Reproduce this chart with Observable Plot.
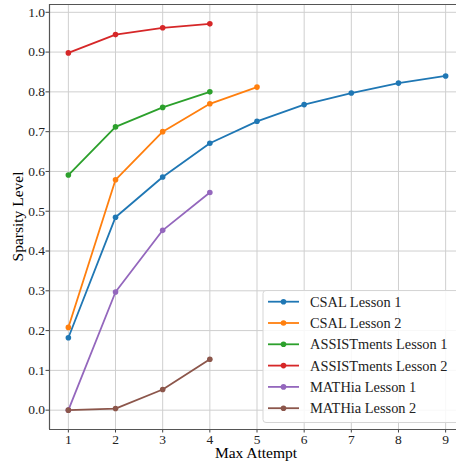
<!DOCTYPE html>
<html><head><meta charset="utf-8">
<script src="https://cdn.jsdelivr.net/npm/d3@7"></script>
<script src="https://cdn.jsdelivr.net/npm/@observablehq/plot@0.6"></script>
<style>
body{margin:0;background:#fff;}
#chart{position:relative;width:456px;height:461px;overflow:hidden;}
</style>
</head><body><div id="chart"></div>
<script>
const attempts = [1,2,3,4,5,6,7,8,9];
const seriesNames = ["CSAL Lesson 1","CSAL Lesson 2","ASSISTments Lesson 1","ASSISTments Lesson 2","MATHia Lesson 1","MATHia Lesson 2"];
const csalLesson1 = [0.182,0.485,0.586,0.671,0.726,0.768,0.797,0.822,0.840];
const csalLesson2 = [0.208,0.579,0.700,0.770,0.812];
const assistLesson1 = [0.591,0.712,0.761,0.800];
const assistLesson2 = [0.898,0.944,0.961,0.971];
const mathiaLesson1 = [0.000,0.297,0.452,0.547];
const mathiaLesson2 = [0.000,0.004,0.052,0.128];
const seriesColors = ["#1f77b4","#ff7f0e","#2ca02c","#d62728","#9467bd","#8c564b"];
const xTicks = [1,2,3,4,5,6,7,8,9];
const yTicks = [0,0.1,0.2,0.3,0.4,0.5,0.6,0.7,0.8,0.9,1.0];
const xLabel = "Max Attempt";
const yLabel = "Sparsity Level";

const allSeries = [csalLesson1,csalLesson2,assistLesson1,assistLesson2,mathiaLesson1,mathiaLesson2];
const data = [];
allSeries.forEach((vals,i)=>vals.forEach((v,j)=>data.push({series:seriesNames[i],x:attempts[j],y:v})));

const xDom = [0.6,9.4], yDom = [-0.0486,1.0196];
const font = "'Liberation Serif','Times New Roman',serif";

const plot = Plot.plot({
  width:456, height:461,
  marginLeft:49, marginRight:0, marginTop:4, marginBottom:32,
  style:{fontFamily:font, fontSize:"13px", color:"#222", background:"#fff"},
  x:{domain:xDom, range:[49,464]},
  y:{domain:yDom, range:[429,4]},
  color:{domain:seriesNames, range:seriesColors},
  marks:[
    Plot.gridX(xTicks,{stroke:"#cfcfcf", strokeOpacity:1, strokeWidth:1}),
    Plot.gridY(yTicks,{stroke:"#cfcfcf", strokeOpacity:1, strokeWidth:1}),
    Plot.line(data,{x:"x",y:"y",z:"series",stroke:"series",strokeWidth:1.8}),
    Plot.dot(data,{x:"x",y:"y",fill:"series",r:2.8}),
    Plot.axisX(xTicks,{tickSize:3.5, tickPadding:1, label:null, fontSize:13.5, stroke:"#444"}),
    Plot.axisY(yTicks,{tickSize:3.5, tickPadding:1, label:null, fontSize:13.5, tickFormat:d3.format(".1f"), stroke:"#444"}),
    Plot.ruleY([yDom[0]],{stroke:"#555", strokeWidth:1.2}),
    Plot.ruleY([yDom[1]],{stroke:"#555", strokeWidth:1.2}),
    Plot.ruleX([xDom[0]],{stroke:"#555", strokeWidth:1.2}),
    Plot.ruleX([xDom[1]],{stroke:"#555", strokeWidth:1.2})
  ]
});
document.getElementById("chart").appendChild(plot);

const svg = d3.select(plot);
svg.style("overflow","hidden");
// axis labels
svg.append("text").attr("x",256).attr("y",457.5).attr("text-anchor","middle")
  .style("font-family",font).style("font-size","15.5px").attr("fill","#000").text(xLabel);
svg.append("text").attr("transform","translate(23,216.5) rotate(-90)").attr("text-anchor","middle")
  .style("font-family",font).style("font-size","15.5px").attr("fill","#000").text(yLabel);

// legend
const lg = svg.append("g").attr("text-anchor","start");
lg.append("rect").attr("x",263).attr("y",290.5).attr("width",230).attr("height",132).attr("rx",3)
  .attr("fill","#fff").attr("fill-opacity",0.85).attr("stroke","#d5d5d5");
seriesNames.forEach((name,i)=>{
  const y = 301.7 + i*21.3;
  lg.append("line").attr("x1",268).attr("x2",299).attr("y1",y).attr("y2",y)
    .attr("stroke",seriesColors[i]).attr("stroke-width",1.8);
  lg.append("circle").attr("cx",283.5).attr("cy",y).attr("r",2.8).attr("fill",seriesColors[i]);
  lg.append("text").attr("x",310).attr("y",y).attr("dy","0.35em").attr("text-anchor","start")
    .style("font-family",font).style("font-size","14.4px").attr("fill","#222").text(name);
});
</script>
</body></html>
